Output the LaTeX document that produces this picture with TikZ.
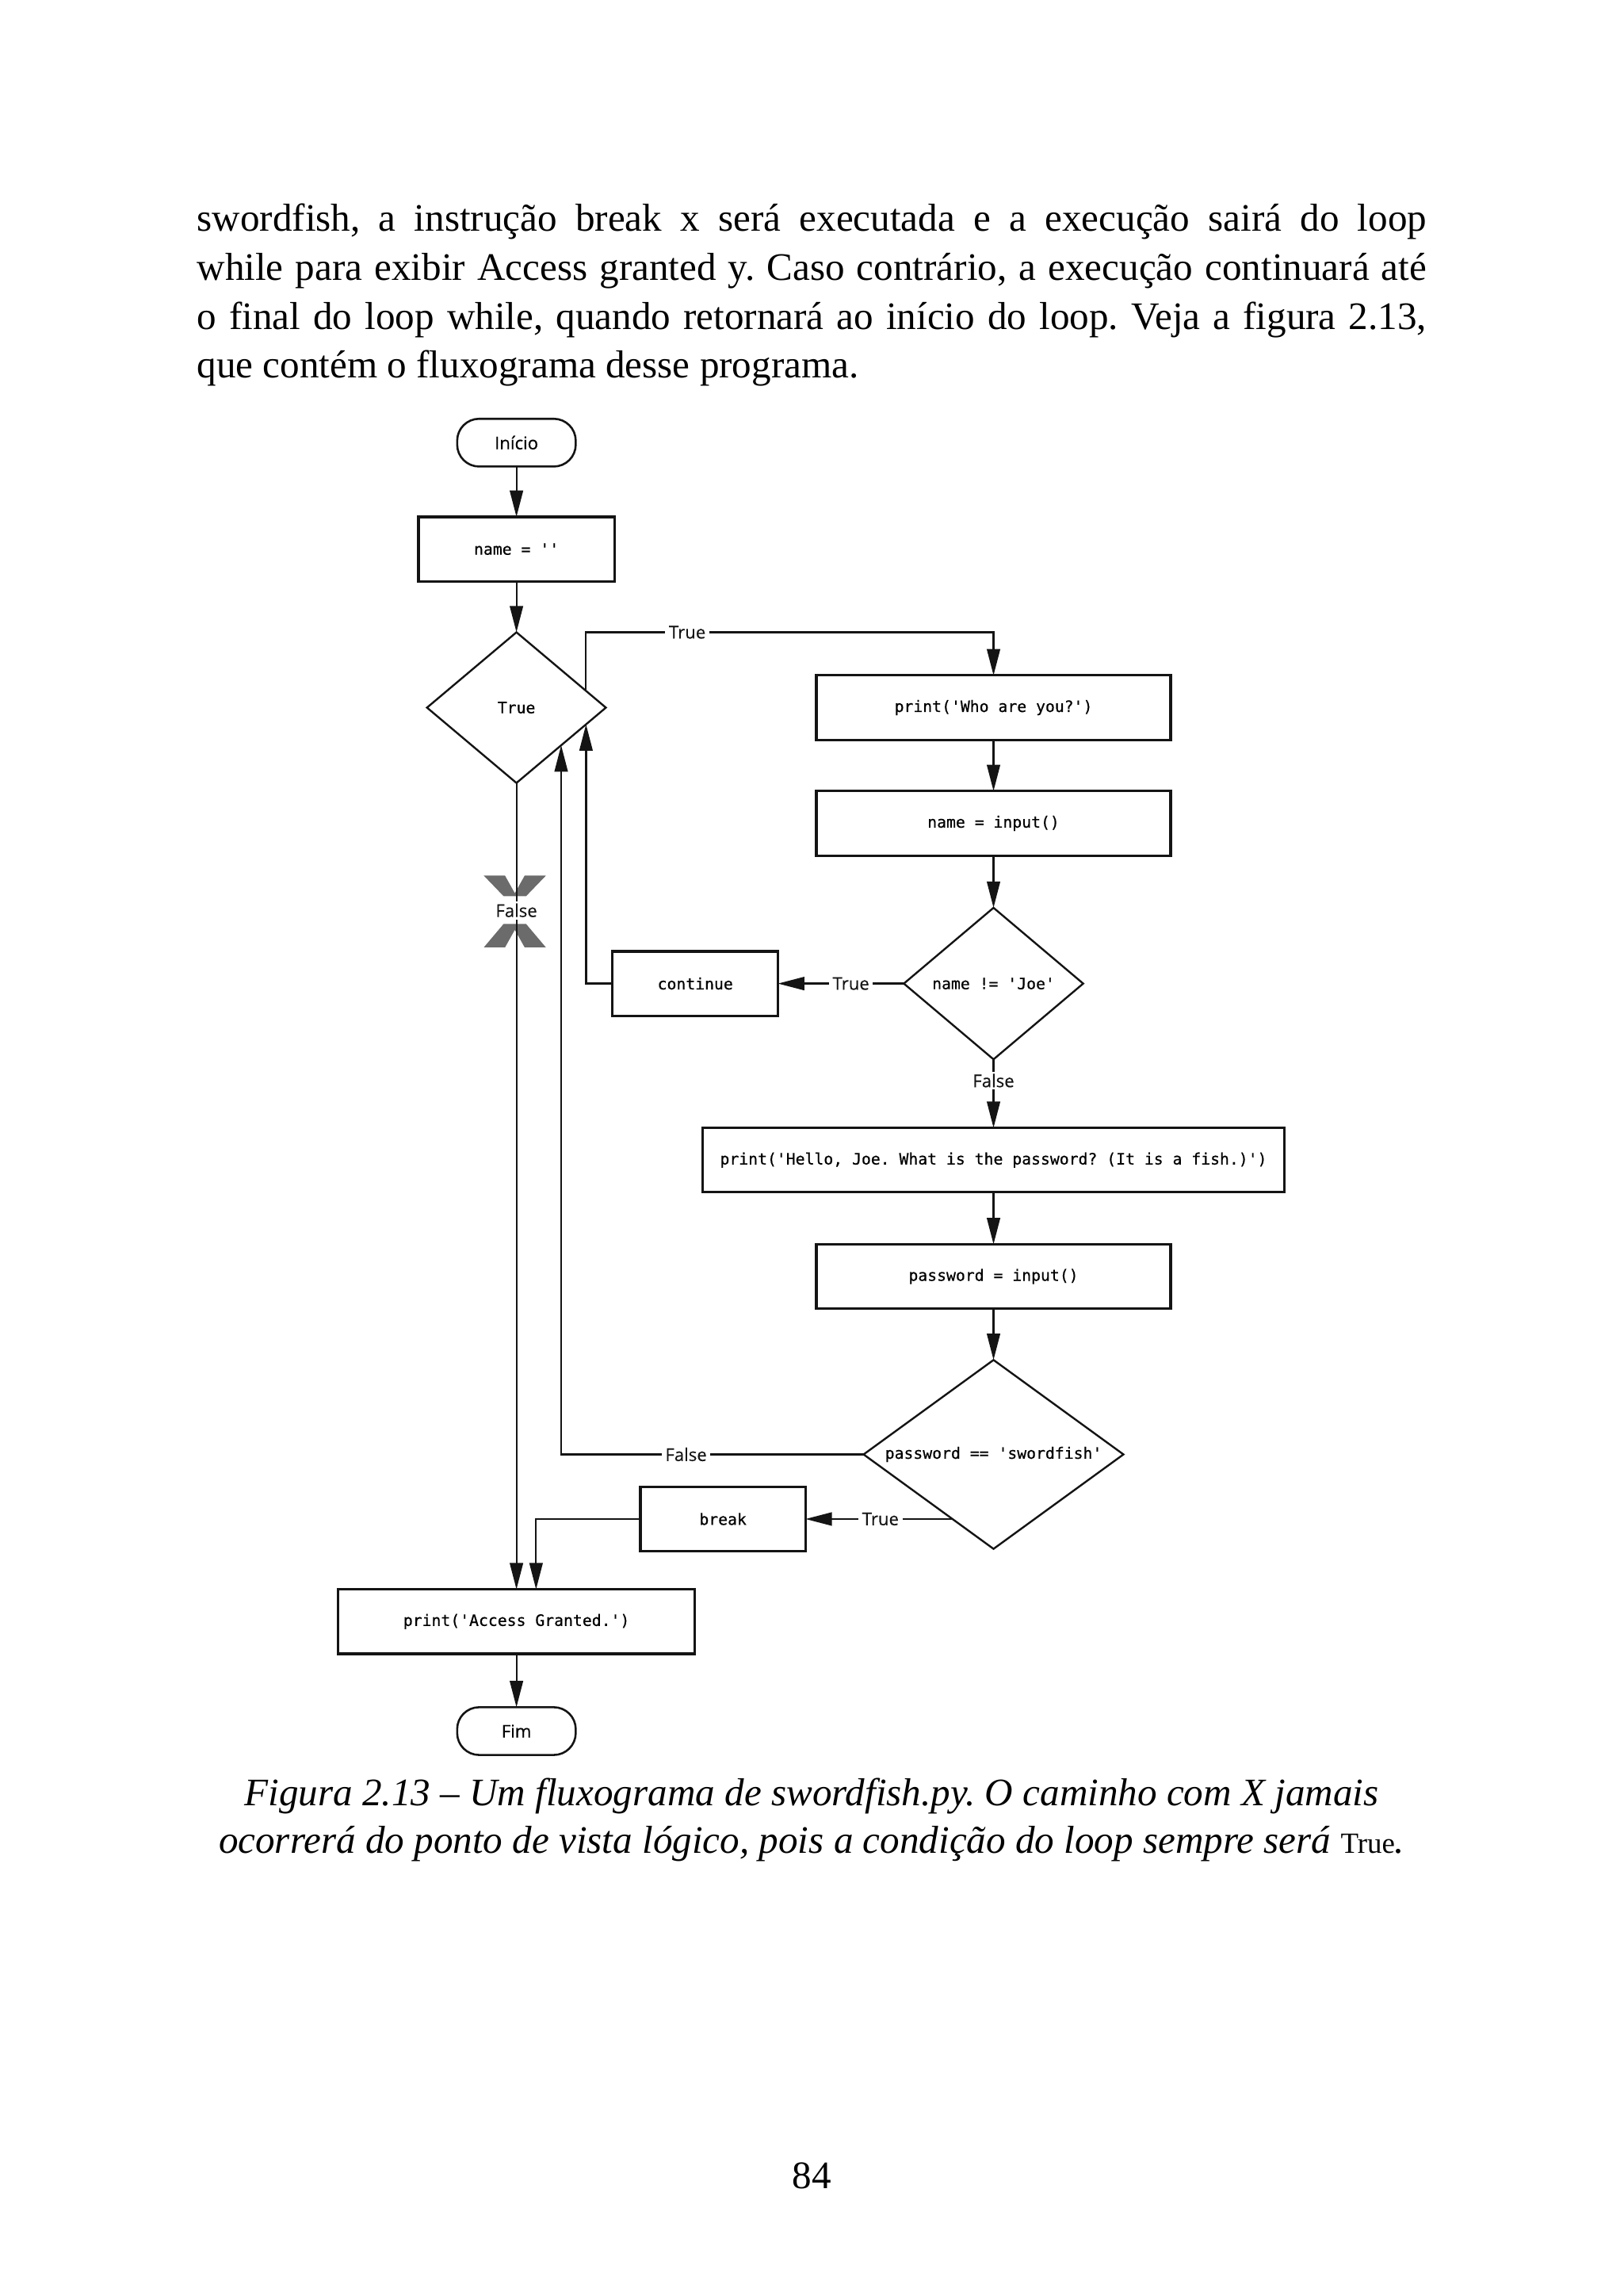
\documentclass[tikz,border=0pt]{standalone}
\usepackage{fontspec}
\setmainfont{Liberation Serif}
\newfontfamily\codefont{DejaVu Sans Mono}[Ligatures=TeXOff, FakeBold=0.5]
\newfontfamily\labelfont{Open Sans}[FakeBold=0.3]
\usetikzlibrary{arrows.meta, calc, positioning, shapes.geometric}
\definecolor{RichBlack}{gray}{0.08}
\definecolor{MarkGray}{gray}{0.42}
\newcommand{\codesize}{\codefont\fontsize{10.7pt}{12pt}\selectfont}
\newcommand{\labelsize}{\labelfont\fontsize{12pt}{14pt}\selectfont}
\newcommand{\bodysize}{\fontsize{26.6pt}{33.4pt}\selectfont}
\newcommand{\captionsize}{\itshape\fontsize{26.6pt}{32.5pt}\selectfont}
\frenchspacing
\tikzset{%
  flow_terminal/.style={%
    rectangle,%
    rounded corners=15pt,%
    draw=RichBlack,%
    line width=1.4pt,%
    minimum width=81pt,%
    minimum height=32.6pt,%
    inner sep=0pt,%
    outer sep=0pt,%
    font={\labelsize},%
  },
  flow_block/.style={%
    rectangle,%
    draw=RichBlack,%
    line width=1.7pt,%
    minimum height=44pt,%
    inner sep=0pt,%
    outer sep=0pt,%
    font={\codesize},%
  },
  flow_decision/.style={%
    diamond,%
    aspect=1.35,%
    draw=RichBlack,%
    line width=1.3pt,%
    inner sep=0pt,%
    outer sep=0pt,%
    font={\codesize},%
  },
  flow_path/.style={%
    color=RichBlack,%
    line width=1.2pt,%
    line join=miter,%
  },
  flow_label/.style={%
    fill=white,%
    inner xsep=2.5pt,%
    inner ysep=1.5pt,%
    text=RichBlack,%
    font={\labelsize},%
  },
  arrow/.style={-{Triangle[length=18pt, width=9pt]}},
}

\begin{document}
\begin{tikzpicture}[x=1pt, y=-1pt]
    \useasboundingbox (0, 0) rectangle (1109, 1568);

    \node [anchor=base west, text width=840pt, align=justify, inner sep=0pt,
      font={\bodysize}] (Intro) at (134.4, 158) {%
      \tolerance=10000
      swordfish, a instrução break x será executada e a execução sairá do loop\linebreak
      while para exibir Access granted y. Caso contrário, a execução continuará até\linebreak
      o final do loop while, quando retornará ao início do loop. Veja a figura 2.13,\linebreak
      que contém o fluxograma desse programa.%
    };

    % main column
    \node [flow_terminal] (Start) at (352.8, 302.3) {Início};
    \node [flow_block, minimum width=133.8pt, below = 34.4pt of Start] (InitName) {%
      name = ''%
    };
    \node [flow_decision, minimum width=122.2pt, minimum height=102.9pt,
      below = 34.8pt of InitName] (LoopCond) {%
      True%
    };
    \node [flow_block, minimum width=242pt, right = 143.8pt of LoopCond] (AskName) {%
      print('Who are you?')%
    };
    \node [flow_block, minimum width=242pt, below = 35pt of AskName] (ReadName) {%
      name = input()%
    };
    \node [flow_decision, minimum width=122.5pt, minimum height=103.5pt,
      below = 35.7pt of ReadName] (NameCheck) {%
      name != 'Joe'%
    };
    \node [flow_block, minimum width=113pt, left = 86pt of NameCheck] (Continue) {%
      continue%
    };
    \node [flow_block, minimum width=397pt, below = 46.8pt of NameCheck] (AskPass) {%
      print('Hello, Joe. What is the password? (It is a fish.)')%
    };
    \node [flow_block, minimum width=242pt, below = 35.5pt of AskPass] (ReadPass) {%
      password = input()%
    };
    \node [flow_decision, minimum width=177.5pt, minimum height=129pt,
      below = 35pt of ReadPass] (PassCheck) {%
      password == 'swordfish'%
    };
    \coordinate (pass_true) at ($(PassCheck.west)!0.684!(PassCheck.south)$);
    \node [flow_block, minimum width=112.8pt, left = 100.4pt of pass_true] (Break) {%
      break%
    };
    \node [flow_block, minimum width=243.8pt, below = 550.7pt of LoopCond] (Granted) {%
      print('Access Granted.')%
    };
    \node [flow_terminal, below = 36.5pt of Granted] (Finish) {Fim};

    \coordinate (loop_true) at ($(LoopCond.north)!0.775!(LoopCond.east)$);
    \coordinate (cont_back) at ($(LoopCond.east)!0.222!(LoopCond.south)$);
    \coordinate (pass_back) at ($(LoopCond.east)!0.5!(LoopCond.south)$);

    % the X on the path that never runs
    \fill [MarkGray] (330.5, 598) -- (345, 598) -- (351.7, 610) -- (358.4, 598)
      -- (372.9, 598) -- (359.4, 612) -- (344, 612) -- cycle;
    \fill [MarkGray] (344, 631) -- (359.4, 631) -- (372.9, 647) -- (358.4, 647)
      -- (351.7, 635) -- (345, 647) -- (330.5, 647) -- cycle;

    \draw [arrow, flow_path]
      (Start.south) -- (InitName.north);
    \draw [arrow, flow_path]
      (InitName.south) -- (LoopCond.north);
    \draw [arrow, flow_path]
      (loop_true)
      --
      (loop_true |- LoopCond.north)
      --
      node [flow_label, pos=0.249] {True}
      (AskName.north |- LoopCond.north)
      --
      (AskName.north);
    \draw [arrow, flow_path]
      (LoopCond.south)
      --
      node [flow_label, pos=0.158] {False}
      (Granted.north);
    \draw [arrow, flow_path]
      (AskName.south) -- (ReadName.north);
    \draw [arrow, flow_path]
      (ReadName.south) -- (NameCheck.north);
    \draw [arrow, flow_path]
      (NameCheck.west)
      --
      node [flow_label, pos=0.42] {True}
      (Continue.east);
    \draw [arrow, flow_path]
      (Continue.west)
      -|
      (cont_back);
    \draw [arrow, flow_path]
      (NameCheck.south)
      --
      node [flow_label, pos=0.31] {False}
      (AskPass.north);
    \draw [arrow, flow_path]
      (AskPass.south) -- (ReadPass.north);
    \draw [arrow, flow_path]
      (ReadPass.south) -- (PassCheck.north);
    \draw [arrow, flow_path]
      (PassCheck.west)
      --
      node [flow_label, pos=0.587] {False}
      (PassCheck.west -| pass_back)
      --
      (pass_back);
    \draw [arrow, flow_path]
      (pass_true)
      --
      node [flow_label, pos=0.49] {True}
      (Break.east);
    \draw [arrow, flow_path]
      (Break.west)
      -|
      ($(Granted.north)+(13.4, 0)$);
    \draw [arrow, flow_path]
      (Granted.south) -- (Finish.north);

    \node [anchor=base, align=center, inner sep=0pt, font={\captionsize}]
      (Caption) at (554.5, 1265.8) {%
      Figura 2.13 – Um fluxograma de swordfish.py. O caminho com X jamais\\
      ocorrerá do ponto de vista lógico, pois a condição do loop sempre será
      {\upshape\fontsize{20pt}{20pt}\selectfont True}.%
    };
    \node [anchor=base, inner sep=0pt, font={\bodysize}] (PageNum) at (554.5, 1494.5) {84};
\end{tikzpicture}
\end{document}
